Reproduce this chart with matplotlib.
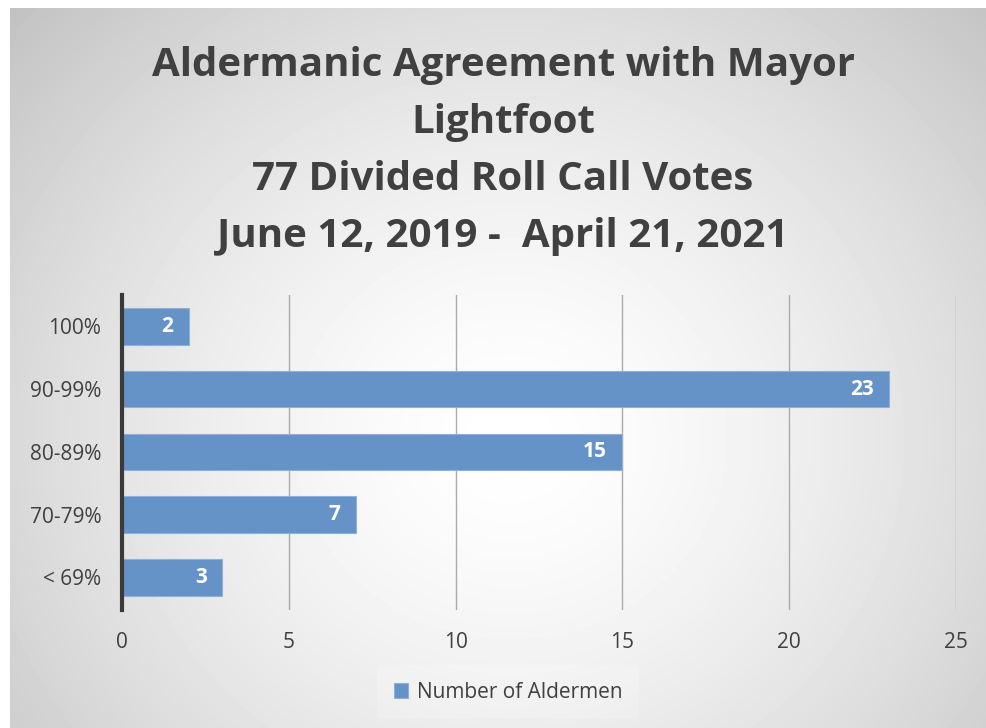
import matplotlib
matplotlib.use("Agg")
import matplotlib.pyplot as plt
import numpy as np

categories = ["< 69%", "70-79%", "80-89%", "90-99%", "100%"]
aldermen = [3, 7, 15, 23, 2]
xticks = [0, 5, 10, 15, 20, 25]
title = "Aldermanic Agreement with Mayor\nLightfoot\n77 Divided Roll Call Votes\nJune 12, 2019 -  April 21, 2021"

plt.rcParams['font.family'] = ['Open Sans', 'DejaVu Sans']

fig = plt.figure(figsize=(9.86, 7.28), dpi=100)
fig.patch.set_facecolor('white')

# radial gradient background
bg = fig.add_axes([10/986, 0, 976/986, 1 - 8/728], zorder=-10)
yy, xx = np.mgrid[0:720, 0:976]
r = np.sqrt(((xx - 500) / 560.0) ** 2 + ((yy - 430) / 520.0) ** 2)
shade = 1.0 - 0.25 * np.clip(r, 0, 1.25) ** 1.5 / 1.25 ** 1.5
bg.imshow(shade, cmap='gray', vmin=0, vmax=1, aspect='auto', interpolation='bilinear')
bg.set_axis_off()

ax = fig.add_axes([122/986, 1 - 610/728, (956 - 122)/986, (610 - 295)/728])
ax.patch.set_alpha(0)
y = np.arange(len(categories))
bars = ax.barh(y, aldermen, height=0.58, color='#6592c7', edgecolor='#8fb0d9', linewidth=0.8, zorder=3)
for yi, v in zip(y, aldermen):
    ax.annotate(str(v), (v, yi), xytext=(-11, 0), textcoords='offset points', ha='right', va='center',
                color='white', fontsize=15, fontweight='bold', zorder=4)

ax.set_xlim(0, 25)
ax.set_ylim(-0.52, 4.5)
ax.set_xticks(xticks)
ax.set_yticks(y)
ax.set_yticklabels(categories)
ax.grid(axis='x', color='#ababab', linewidth=1.0, zorder=0)
ax.tick_params(axis='both', length=0, labelsize=15, colors='#404040')
ax.tick_params(axis='x', pad=16)
ax.tick_params(axis='y', pad=15)
for s in ['top', 'right', 'bottom']:
    ax.spines[s].set_visible(False)
ax.spines['left'].set_linewidth(3)
ax.spines['left'].set_color('#3a3a3a')
ax.spines['left'].set_zorder(5)

fig.text(503/986, 1 - 151/728, title, ha='center', va='center', fontsize=29,
         fontweight='bold', color='#404040', linespacing=1.6)

leg = ax.legend([bars[0]], ["Number of Aldermen"], loc='center', bbox_to_anchor=(508/986, 1 - 692/728),
                bbox_transform=fig.transFigure, frameon=True, fontsize=15, handlelength=0.7,
                handleheight=0.7, handletextpad=0.4, borderpad=0.8)
leg.get_frame().set_facecolor('white')
leg.get_frame().set_alpha(0.2)
leg.get_frame().set_edgecolor('none')
for t in leg.get_texts():
    t.set_color('#404040')

fig.savefig("out.png", dpi=100)
